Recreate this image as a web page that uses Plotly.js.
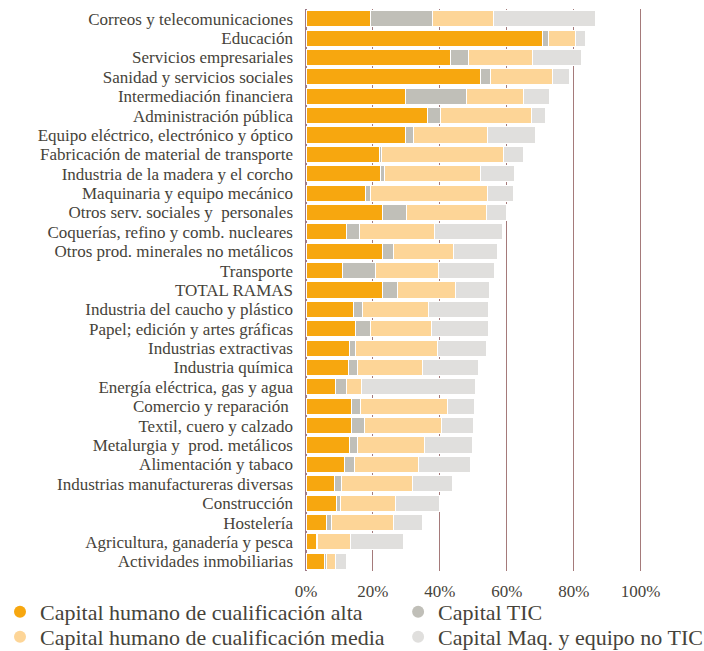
<!DOCTYPE html>
<html>
<head>
<meta charset="utf-8">
<script src="https://cdn.plot.ly/plotly-3.0.1.min.js"></script>
<style>
  html, body { margin: 0; padding: 0; background: #ffffff; }
  #chart { width: 704px; height: 651px; }
</style>
</head>
<body>
<div id="chart"></div>
<script>
const categories = [
  "Correos y telecomunicaciones",
  "Educación",
  "Servicios empresariales",
  "Sanidad y servicios sociales",
  "Intermediación financiera",
  "Administración pública",
  "Equipo eléctrico, electrónico y óptico",
  "Fabricación de material de transporte",
  "Industria de la madera y el corcho",
  "Maquinaria y equipo mecánico",
  "Otros serv. sociales y  personales",
  "Coquerías, refino y comb. nucleares",
  "Otros prod. minerales no metálicos",
  "Transporte",
  "TOTAL RAMAS",
  "Industria del caucho y plástico",
  "Papel; edición y artes gráficas",
  "Industrias extractivas",
  "Industria química",
  "Energía eléctrica, gas y agua",
  "Comercio y reparación ",
  "Textil, cuero y calzado",
  "Metalurgia y  prod. metálicos",
  "Alimentación y tabaco",
  "Industrias manufactureras diversas",
  "Construcción",
  "Hostelería",
  "Agricultura, ganadería y pesca",
  "Actividades inmobiliarias"
];

const seriesNames = [
  "Capital humano de cualificación alta",
  "Capital TIC",
  "Capital humano de cualificación media",
  "Capital Maq. y equipo no TIC"
];

const humanoAlta = [19.2, 70.8, 43.2, 52.1, 29.6, 36.3, 29.7, 21.9, 22.2, 17.8, 23.0, 12.1, 23.0, 11.0, 23.0, 14.3, 14.8, 12.9, 12.7, 8.9, 13.6, 13.7, 12.9, 11.6, 8.5, 9.2, 6.1, 3.2, 5.5];
const capitalTIC = [18.6, 1.6, 5.4, 2.9, 18.4, 3.9, 2.3, 0.8, 1.4, 1.4, 7.0, 3.9, 3.1, 9.9, 4.2, 2.7, 4.4, 2.0, 2.8, 3.1, 2.8, 3.7, 2.4, 2.8, 2.0, 1.2, 1.4, 0.3, 0.6];
const humanoMedia = [18.2, 8.2, 19.2, 18.8, 17.0, 27.2, 22.1, 36.2, 28.5, 35.0, 23.8, 22.5, 18.0, 18.7, 17.5, 19.5, 18.4, 24.3, 19.2, 4.7, 26.0, 23.1, 20.0, 19.2, 21.4, 16.2, 18.6, 9.7, 2.8];
const maqNoTIC = [30.5, 2.8, 14.6, 4.8, 7.9, 4.2, 14.4, 6.2, 10.3, 7.8, 6.0, 20.3, 13.2, 16.8, 10.1, 18.0, 16.9, 14.8, 16.8, 33.8, 7.9, 9.6, 14.6, 15.7, 11.8, 13.2, 8.6, 15.9, 3.1];

const tickVals = [0, 20, 40, 60, 80, 100];
const tickText = ["0%", "20%", "40%", "60%", "80%", "100%"];

const colors = ["#F7A70F", "#C0BFB8", "#FDD597", "#E0DFDD"];
const seriesValues = [humanoAlta, capitalTIC, humanoMedia, maqNoTIC];
const legendIds = ["legend", "legend2", "legend3", "legend4"];

const textColor = "#46433a";
const fontFam = "Liberation Serif, Times New Roman, serif";

const traces = [];
seriesValues.forEach((vals, i) => {
  traces.push({
    type: "bar",
    orientation: "h",
    name: seriesNames[i],
    x: vals,
    y: categories,
    marker: { color: colors[i], line: { color: "#ffffff", width: 1 } },
    showlegend: false,
    hoverinfo: "x+y+name"
  });
});
// legend entries with round symbols
seriesValues.forEach((vals, i) => {
  traces.push({
    type: "scatter",
    mode: "markers",
    name: seriesNames[i],
    x: [null],
    y: [null],
    marker: { color: colors[i], size: 12, symbol: "circle" },
    showlegend: true,
    legend: legendIds[i],
    hoverinfo: "skip"
  });
});

function legendBox(x, y) {
  return {
    orientation: "v",
    traceorder: "normal",
    xref: "container",
    yref: "container",
    x: x,
    y: y,
    xanchor: "left",
    yanchor: "top",
    itemwidth: 30,
    font: { family: fontFam, size: 22, color: textColor },
    bgcolor: "rgba(0,0,0,0)"
  };
}

const layout = {
  width: 704,
  height: 651,
  barmode: "stack",
  bargap: 0.17,
  paper_bgcolor: "#ffffff",
  plot_bgcolor: "#ffffff",
  margin: { l: 306, r: 60, t: 9, b: 80, pad: 0, autoexpand: false },
  font: { family: fontFam, color: textColor, size: 17 },
  xaxis: {
    range: [0, 101],
    tickmode: "array",
    tickvals: tickVals,
    ticktext: tickText,
    showgrid: true,
    gridcolor: "#a57a7a",
    gridwidth: 1,
    zeroline: true,
    zerolinecolor: "#9e7a86",
    zerolinewidth: 2,
    showline: false,
    ticks: "",
    ticklabelstandoff: 8,
    tickfont: { family: fontFam, size: 17, color: textColor },
    fixedrange: true
  },
  yaxis: {
    type: "category",
    categoryorder: "array",
    categoryarray: categories,
    tickmode: "array",
    tickvals: categories,
    ticktext: categories,
    autorange: "reversed",
    showgrid: false,
    zeroline: false,
    showline: false,
    ticks: "",
    ticklabelstandoff: 12,
    tickfont: { family: fontFam, size: 17, color: textColor },
    fixedrange: true
  },
  legend: legendBox(0, 0.0922),
  legend2: legendBox(0.5655, 0.0922),
  legend3: legendBox(0, 0.0538),
  legend4: legendBox(0.5655, 0.0538),
  showlegend: true
};

Plotly.newPlot("chart", traces, layout, { displayModeBar: false, staticPlot: true });
</script>
</body>
</html>
